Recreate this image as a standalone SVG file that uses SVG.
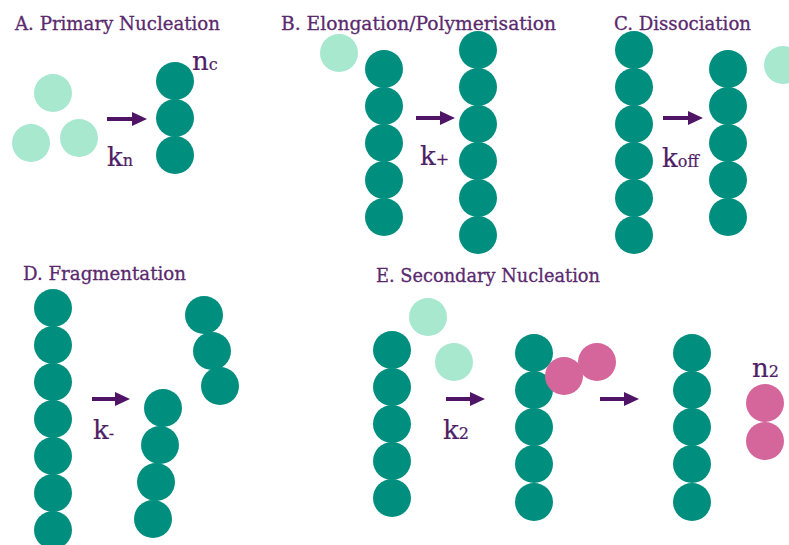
<svg xmlns="http://www.w3.org/2000/svg" width="789" height="545" viewBox="0 0 789 545">
<style>
.t{font-family:"DejaVu Serif","Liberation Serif",serif;font-size:18px;fill:#5a2a6e;stroke:#5a2a6e;stroke-width:0.3}
.k{font-family:"DejaVu Serif","Liberation Serif",serif;font-size:26px;fill:#4f1f66;stroke:#4f1f66;stroke-width:0.2}
.s{font-size:16px}
.d{fill:#008e7e}
.l{fill:#a7e8cf}
.p{fill:#d4669b}
.a{stroke:#4f1466;stroke-width:4;fill:none}
</style>
<defs>
<marker id="h" markerUnits="userSpaceOnUse" markerWidth="16" markerHeight="16" refX="0" refY="7" orient="auto">
<path d="M0,0 L15,7 L0,14 z" fill="#4f1466"/>
</marker>
</defs>
<rect width="789" height="545" fill="#fff"/>
<g id="titles">
<text class="t" x="15" y="30" textLength="205" lengthAdjust="spacingAndGlyphs">A. Primary Nucleation</text>
<text class="t" x="281" y="30" textLength="275" lengthAdjust="spacingAndGlyphs">B. Elongation/Polymerisation</text>
<text class="t" x="614" y="30" textLength="137" lengthAdjust="spacingAndGlyphs">C. Dissociation</text>
<text class="t" x="23" y="280" textLength="163" lengthAdjust="spacingAndGlyphs">D. Fragmentation</text>
<text class="t" x="376" y="282" textLength="224" lengthAdjust="spacingAndGlyphs">E. Secondary Nucleation</text>
</g>
<g id="panelA">
<g id="A-monomers">
<circle class="l" cx="53" cy="93" r="19"/>
<circle class="l" cx="31" cy="143" r="19"/>
<circle class="l" cx="79" cy="138" r="19"/>
</g>
<g id="A-nucleus">
<circle class="d" cx="175" cy="81" r="19"/>
<circle class="d" cx="175" cy="118" r="19"/>
<circle class="d" cx="175" cy="155" r="19"/>
</g>
<text class="k" x="107" y="166">k<tspan class="s">n</tspan></text>
<text class="k" x="192" y="70">n<tspan class="s">c</tspan></text>
</g>
<g id="panelB">
<circle id="B-monomer" class="l" cx="339" cy="53" r="19"/>
<g id="B-fibril">
<circle class="d" cx="384" cy="69" r="19"/>
<circle class="d" cx="384" cy="106" r="19"/>
<circle class="d" cx="384" cy="143" r="19"/>
<circle class="d" cx="384" cy="180" r="19"/>
<circle class="d" cx="384" cy="217" r="19"/>
</g>
<g id="B-product">
<circle class="d" cx="478" cy="50" r="19"/>
<circle class="d" cx="478" cy="87" r="19"/>
<circle class="d" cx="478" cy="124" r="19"/>
<circle class="d" cx="478" cy="161" r="19"/>
<circle class="d" cx="478" cy="198" r="19"/>
<circle class="d" cx="478" cy="235" r="19"/>
</g>
<text class="k" x="420" y="165">k<tspan class="s">+</tspan></text>
</g>
<g id="panelC">
<g id="C-fibril">
<circle class="d" cx="634" cy="50" r="19"/>
<circle class="d" cx="634" cy="87" r="19"/>
<circle class="d" cx="634" cy="124" r="19"/>
<circle class="d" cx="634" cy="161" r="19"/>
<circle class="d" cx="634" cy="198" r="19"/>
<circle class="d" cx="634" cy="235" r="19"/>
</g>
<g id="C-product">
<circle class="d" cx="728" cy="69" r="19"/>
<circle class="d" cx="728" cy="106" r="19"/>
<circle class="d" cx="728" cy="143" r="19"/>
<circle class="d" cx="728" cy="180" r="19"/>
<circle class="d" cx="728" cy="217" r="19"/>
</g>
<circle id="C-monomer" class="l" cx="783" cy="65" r="19"/>
<text class="k" x="662" y="167">k<tspan class="s">off</tspan></text>
</g>
<g id="panelD">
<g id="D-fibril">
<circle class="d" cx="53" cy="308" r="19"/>
<circle class="d" cx="53" cy="345" r="19"/>
<circle class="d" cx="53" cy="382" r="19"/>
<circle class="d" cx="53" cy="419" r="19"/>
<circle class="d" cx="53" cy="456" r="19"/>
<circle class="d" cx="53" cy="493" r="19"/>
<circle class="d" cx="53" cy="530" r="19"/>
</g>
<g id="D-fragment1">
<circle class="d" cx="163" cy="408" r="19"/>
<circle class="d" cx="160" cy="445" r="19"/>
<circle class="d" cx="156" cy="482" r="19"/>
<circle class="d" cx="153" cy="519" r="19"/>
</g>
<g id="D-fragment2">
<circle class="d" cx="204" cy="315" r="19"/>
<circle class="d" cx="212" cy="351" r="19"/>
<circle class="d" cx="220" cy="386" r="19"/>
</g>
<text class="k" x="93" y="439">k<tspan class="s">-</tspan></text>
</g>
<g id="panelE">
<g id="E-fibril">
<circle class="d" cx="392" cy="350" r="19"/>
<circle class="d" cx="392" cy="387" r="19"/>
<circle class="d" cx="392" cy="424" r="19"/>
<circle class="d" cx="392" cy="461" r="19"/>
<circle class="d" cx="392" cy="498" r="19"/>
</g>
<g id="E-monomers">
<circle class="l" cx="428" cy="317" r="19"/>
<circle class="l" cx="454" cy="362" r="19"/>
</g>
<g id="E-intermediate">
<circle class="d" cx="534" cy="353" r="19"/>
<circle class="d" cx="534" cy="390" r="19"/>
<circle class="d" cx="534" cy="427" r="19"/>
<circle class="d" cx="534" cy="464" r="19"/>
<circle class="d" cx="534" cy="502" r="19"/>
<circle class="p" cx="564" cy="376" r="19"/>
<circle class="p" cx="597" cy="362" r="19"/>
</g>
<g id="E-product">
<circle class="d" cx="692" cy="353" r="19"/>
<circle class="d" cx="692" cy="390" r="19"/>
<circle class="d" cx="692" cy="427" r="19"/>
<circle class="d" cx="692" cy="464" r="19"/>
<circle class="d" cx="692" cy="502" r="19"/>
</g>
<g id="E-nucleus">
<circle class="p" cx="765" cy="403" r="19"/>
<circle class="p" cx="765" cy="441" r="19"/>
</g>
<text class="k" x="443" y="439">k<tspan class="s">2</tspan></text>
<text class="k" x="752" y="377">n<tspan class="s">2</tspan></text>
</g>
<g id="connectors">
<line class="a" x1="107" y1="119" x2="132" y2="119" marker-end="url(#h)"/>
<line class="a" x1="416" y1="118" x2="440" y2="118" marker-end="url(#h)"/>
<line class="a" x1="663" y1="118" x2="688" y2="118" marker-end="url(#h)"/>
<line class="a" x1="92" y1="399" x2="115" y2="399" marker-end="url(#h)"/>
<line class="a" x1="446" y1="399" x2="470" y2="399" marker-end="url(#h)"/>
<line class="a" x1="600" y1="399" x2="624" y2="399" marker-end="url(#h)"/>
</g>
</svg>
